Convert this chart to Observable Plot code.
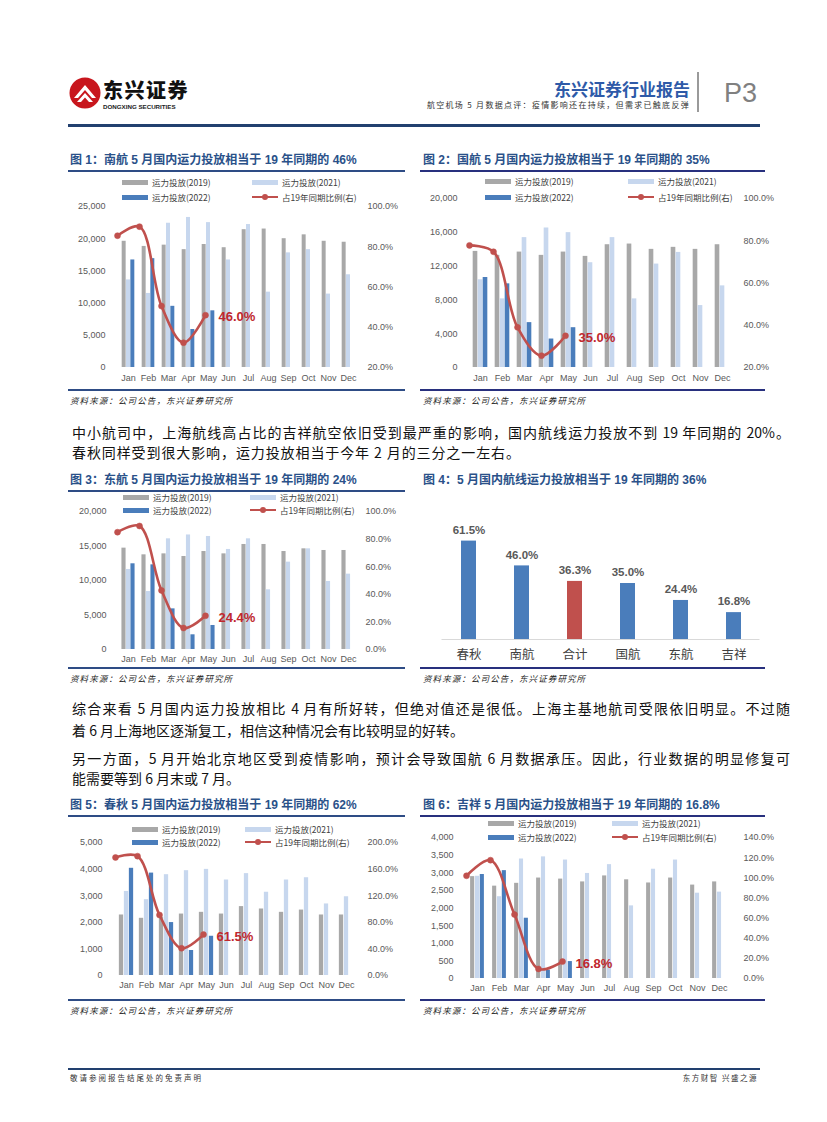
<!DOCTYPE html>
<html><head><meta charset="utf-8">
<script src="https://cdn.jsdelivr.net/npm/d3@7"></script>
<script src="https://cdn.jsdelivr.net/npm/@observablehq/plot@0.6"></script>
<style>
body{margin:0;background:#fff;}
#page{position:relative;width:827px;height:1122px;overflow:hidden;background:#fff;font-family:"Liberation Sans","Noto Sans CJK SC",sans-serif;}
.abs{position:absolute;white-space:nowrap;}
.title{position:absolute;white-space:nowrap;font-family:"Liberation Sans","Noto Sans CJK SC",sans-serif;font-weight:bold;font-size:12px;line-height:16px;color:#2a5189;}
.hr{position:absolute;height:1.5px;background:#2e4c85;}
.hr2{position:absolute;height:1.5px;background:#28307e;}
.src{position:absolute;white-space:nowrap;font-family:"Noto Sans CJK SC",sans-serif;font-size:8.5px;line-height:12px;font-style:italic;letter-spacing:1.1px;color:#222;}
.lg{position:absolute;white-space:nowrap;font-family:"Noto Sans CJK SC","Liberation Sans",sans-serif;font-size:8.5px;line-height:12px;color:#404040;}
.sw{position:absolute;height:5px;width:26px;}
.para{position:absolute;left:72px;width:718px;font-family:"Noto Sans CJK SC",sans-serif;font-size:14px;line-height:20px;color:#111;white-space:nowrap;}
.just{text-align:justify;text-align-last:justify;white-space:normal;}
.chart{position:absolute;overflow:visible;}
.chart svg{position:absolute;left:0;top:0;overflow:visible;}
</style>
</head><body><div id="page"></div>
<script>
// ---------- data ----------
const months = ["Jan","Feb","Mar","Apr","May","Jun","Jul","Aug","Sep","Oct","Nov","Dec"];
const legendNames = ["运力投放(2019)","运力投放(2021)","运力投放(2022)","占19年同期比例(右)"];

// 南航 (China Southern)
const nh2019 = [19600,18800,19000,18300,19100,18600,21400,21500,20000,20600,19600,19450];
const nh2021 = [13600,11500,22400,23300,22500,16700,22200,11700,17800,18300,11400,14400];
const nh2022 = [16700,16900,9500,5900,8800];
const nhRatio = [85.5,90.0,50.5,32.3,46.0];

// 国航 (Air China)
const gh2019 = [13740,13270,13660,13270,13660,13150,14530,14610,13980,14220,13980,14530];
const gh2021 = [10380,8120,15370,16510,15960,12400,15370,8120,12240,13620,7330,9660];
const gh2022 = [10650,9900,5310,3370,4710];
const ghRatio = [77.8,74.8,39.0,25.6,35.0];

// 东航 (China Eastern)
const dh2019 = [14690,13720,13860,13480,14200,13860,15220,15220,14200,14590,14350,14350];
const dh2021 = [11600,8400,16040,16600,16380,14500,16040,8650,12660,14590,9860,10920];
const dh2022 = [12420,12270,5890,2130,3480];
const dhRatio = [85.0,89.5,42.8,15.6,24.4];

// 春秋 (Spring)
const cq2019 = [2275,2150,2190,2310,2375,2310,2590,2500,2375,2460,2275,2275];
const cq2021 = [3160,2850,3790,3940,3990,3590,3830,3130,3590,3675,2690,2960];
const cq2022 = [4030,3850,1990,940,1475];
const cqRatio = [177.5,179.5,91.0,41.0,61.5];

// 吉祥 (Juneyao)
const jx2019 = [2890,2620,2700,2850,2820,2740,2910,2800,2710,2850,2650,2740];
const jx2021 = [2900,2320,3390,3450,3360,2980,3230,2060,3100,3360,2420,2450];
const jx2022 = [2950,3060,1710,235,480];
const jxRatio = [102.0,117.5,63.5,9.5,16.8];

// 图4
const airlines = ["春秋","南航","合计","国航","东航","吉祥"];
const mayShare = [61.5,46.0,36.3,35.0,24.4,16.8];

// tick values
const ticks25k = [0,5000,10000,15000,20000,25000];
const ticks20k4 = [0,4000,8000,12000,16000,20000];
const ticks20k5 = [0,5000,10000,15000,20000];
const ticks5k = [0,1000,2000,3000,4000,5000];
const ticks4k = [0,500,1000,1500,2000,2500,3000,3500,4000];
const rTicks20_100 = [20,40,60,80,100];
const rTicks0_100 = [0,20,40,60,80,100];
const rTicks0_200 = [0,40,80,120,160,200];
const rTicks0_140 = [0,20,40,60,80,100,120,140];

// ---------- style constants ----------
const C19 = "#a8a8a8", C21 = "#c7d7ee", C22 = "#4a7dbb", CRED = "#c0504d", CLAB = "#c0272d";

const page = document.getElementById("page");
function el(tag, cls, css, html) {
  const e = document.createElement(tag);
  if (cls) e.className = cls;
  if (css) e.style.cssText = css;
  if (html != null) e.innerHTML = html;
  page.appendChild(e);
  return e;
}

// ---------- header ----------
el("div","abs","left:68px;top:76px;width:34px;height:34px;",
 `<svg width="34" height="34" viewBox="0 0 34 34"><circle cx="17" cy="17" r="15.5" fill="#c8161d"/>
  <path d="M6 22 L17 9 L28 22 L24 22 L17 14 L10 22 Z" fill="#fff"/>
  <path d="M9 26 L17 17 L25 26 L21 26 L17 21.5 L13 26 Z" fill="#fff"/></svg>`);
el("div","abs","left:103px;top:79px;font-family:'Noto Sans CJK SC';font-weight:900;font-size:20px;line-height:22px;color:#111;letter-spacing:1.5px;","东兴证券");
el("div","abs","left:103px;top:103.5px;font-family:'Liberation Sans';font-weight:bold;font-size:6.2px;line-height:6.5px;color:#222;","DONGXING SECURITIES");
el("div","abs","left:540px;width:150px;top:79px;text-align:right;font-family:'Noto Sans CJK SC';font-weight:bold;font-size:17px;line-height:20px;color:#2e5aa8;","东兴证券行业报告");
el("div","abs","left:380px;width:310px;top:99px;text-align:right;font-family:'Noto Sans CJK SC';font-size:8px;line-height:11px;color:#333;letter-spacing:1.3px;","航空机场 5 月数据点评：疫情影响还在持续，但需求已触底反弹");
el("div","abs","left:697px;top:72px;width:1.5px;height:40px;background:#9a9a9a;");
el("div","abs","left:724px;top:77px;font-family:'Liberation Sans';font-size:27px;line-height:32px;color:#808080;","P3");
el("div","abs","left:68px;top:124px;width:692px;height:3px;background:#22406f;");

// ---------- footer ----------
el("div","abs","left:68px;top:1068px;width:692px;height:2px;background:#22406f;");
el("div","abs","left:70px;top:1072px;font-family:'Noto Sans CJK SC';font-size:7.5px;line-height:11px;letter-spacing:2px;color:#333;","敬请参阅报告结尾处的免责声明");
el("div","abs","left:600px;width:158px;top:1072px;text-align:right;font-family:'Noto Sans CJK SC';font-size:7.5px;line-height:11px;letter-spacing:1.5px;color:#333;","东方财智 兴盛之源");

// ---------- paragraphs ----------
el("div","para just","top:422px;","中小航司中，上海航线高占比的吉祥航空依旧受到最严重的影响，国内航线运力投放不到 19 年同期的 20%。");
el("div","para","top:442px;letter-spacing:0.9px;","春秋同样受到很大影响，运力投放相当于今年 2 月的三分之一左右。");
el("div","para just","top:698px;","综合来看 5 月国内运力投放相比 4 月有所好转，但绝对值还是很低。上海主基地航司受限依旧明显。不过随");
el("div","para","top:720px;","着 6 月上海地区逐渐复工，相信这种情况会有比较明显的好转。");
el("div","para just","top:748px;","另一方面，5 月开始北京地区受到疫情影响，预计会导致国航 6 月数据承压。因此，行业数据的明显修复可");
el("div","para","top:768px;","能需要等到 6 月末或 7 月。");

// ---------- chart frames ----------
function frame(f) {
  el("div","title",`left:${f.tx}px;top:${f.ty - 8}px;`, f.title);
  if (f.topLine != null) el("div", f.right ? "hr2" : "hr", `left:${f.x1}px;width:${f.x2 - f.x1}px;top:${f.topLine}px;`);
  el("div", f.right ? "hr2" : "hr", `left:${f.x1}px;width:${f.x2 - f.x1}px;top:${f.botLine}px;`);
  el("div","src",`left:${f.tx}px;top:${f.botLine + 5}px;`,"资料来源：公司公告，东兴证券研究所");
}
function legend(x1, x2, y1, y2) {
  el("div","sw",`left:${x1}px;top:${y1 - 2.5}px;background:${C19};`);
  el("div","lg",`left:${x1 + 30}px;top:${y1 - 6}px;`, legendNames[0]);
  el("div","sw",`left:${x2}px;top:${y1 - 2.5}px;background:${C21};`);
  el("div","lg",`left:${x2 + 30}px;top:${y1 - 6}px;`, legendNames[1]);
  el("div","sw",`left:${x1}px;top:${y2 - 2.5}px;background:${C22};`);
  el("div","lg",`left:${x1 + 30}px;top:${y2 - 6}px;`, legendNames[2]);
  el("div","abs",`left:${x2}px;top:${y2 - 1.25}px;width:26px;height:2.5px;background:${CRED};`);
  el("div","abs",`left:${x2 + 10}px;top:${y2 - 3}px;width:6px;height:6px;border-radius:3px;background:${CRED};`);
  el("div","lg",`left:${x2 + 30}px;top:${y2 - 6}px;`, legendNames[3]);
}

function combo(c) {
  const s = (c.dec - c.jan) / 11;
  const x0 = c.jan - s / 2, x1 = c.dec + s / 2;
  const W = c.width, H = c.height;
  const mL = x0 - c.left, mR = c.left + W - x1, mT = c.yTop - c.top, mB = c.top + H - c.y0;
  const g = c.group, w = g / 3, e = (s - g) / 2;
  const box = el("div","chart",`left:${c.left}px;top:${c.top}px;width:${W}px;height:${H}px;`);
  const style = {fontFamily: "Liberation Sans, Arial, sans-serif", fontSize: "9px", color: "#595959", background: "transparent", overflow: "visible"};
  const mx = (d, i) => months[i];
  const A = Plot.plot({
    width: W, height: H, marginLeft: mL, marginRight: mR, marginTop: mT, marginBottom: mB,
    style,
    x: {domain: months, padding: 0},
    y: {domain: [0, c.yMax]},
    marks: [
      Plot.barY(c.v19, {x: mx, y: d => d, fill: C19, insetLeft: e, insetRight: s - e - w}),
      Plot.barY(c.v21, {x: mx, y: d => d, fill: C21, insetLeft: e + w, insetRight: e + w}),
      Plot.barY(c.v22, {x: mx, y: d => d, fill: C22, insetLeft: e + 2 * w, insetRight: e}),
      Plot.axisX({tickSize: 0, tickPadding: c.xPad, label: null}),
      Plot.axisY({ticks: c.yTicks, tickSize: 0, tickPadding: x0 - c.leftLabelRight, tickFormat: d3.format(","), label: null})
    ]
  });
  const last = c.ratio.length - 1;
  const B = Plot.plot({
    width: W, height: H, marginLeft: mL, marginRight: mR, marginTop: mT, marginBottom: mB,
    style,
    x: {domain: months, padding: 0, axis: null},
    y: {domain: [c.rMin, c.rMax]},
    marks: [
      Plot.line(c.ratio, {x: mx, y: d => d, stroke: CRED, strokeWidth: 2.6, curve: "catmull-rom"}),
      Plot.dot(c.ratio, {x: mx, y: d => d, r: 3, fill: CRED, stroke: CRED, strokeWidth: 0.5}),
      Plot.text([c.ratio[last]], {x: () => months[last], y: d => d, text: d => d.toFixed(1) + "%", dx: 13, dy: 2,
        textAnchor: "start", fill: CLAB, fontWeight: "bold", fontSize: 13, fontFamily: "Liberation Sans, Arial, sans-serif"}),
      Plot.axisY({anchor: "right", ticks: c.rTicks, tickSize: 0, tickPadding: c.rightLabelLeft - x1,
        tickFormat: d => d.toFixed(1) + "%", label: null})
    ]
  });
  box.appendChild(A);
  box.appendChild(B);
}

// 图1
frame({title: "图 1：南航 5 月国内运力投放相当于 19 年同期的 46%", tx: 70, ty: 160, x1: 68, x2: 405, topLine: 170, botLine: 389});
legend(122, 252, 182, 197);
combo({left: 64, top: 194, width: 341, height: 194, jan: 126, dec: 350, y0: 367, yTop: 206,
  yMax: 25000, yTicks: ticks25k, rMin: 20, rMax: 100, rTicks: rTicks20_100,
  leftLabelRight: 105, rightLabelLeft: 367, xPad: 7.5, group: 13,
  v19: nh2019, v21: nh2021, v22: nh2022, ratio: nhRatio});

// 图2
frame({title: "图 2：国航 5 月国内运力投放相当于 19 年同期的 35%", tx: 423, ty: 160, x1: 420, x2: 765, topLine: 170, botLine: 389, right: true});
legend(485, 628, 181, 197);
combo({left: 420, top: 188, width: 345, height: 200, jan: 478, dec: 724, y0: 367, yTop: 198,
  yMax: 20000, yTicks: ticks20k4, rMin: 20, rMax: 100, rTicks: rTicks20_100,
  leftLabelRight: 457, rightLabelLeft: 743, xPad: 7.5, group: 15,
  v19: gh2019, v21: gh2021, v22: gh2022, ratio: ghRatio});

// 图3
frame({title: "图 3：东航 5 月国内运力投放相当于 19 年同期的 24%", tx: 70, ty: 480, x1: 68, x2: 405, topLine: 490, botLine: 667});
legend(123, 250, 497, 510);
combo({left: 64, top: 502, width: 341, height: 164, jan: 126, dec: 350, y0: 649, yTop: 511,
  yMax: 20000, yTicks: ticks20k5, rMin: 0, rMax: 100, rTicks: rTicks0_100,
  leftLabelRight: 106, rightLabelLeft: 365, xPad: 6.5, group: 13.5,
  v19: dh2019, v21: dh2021, v22: dh2022, ratio: dhRatio});

// 图4
frame({title: "图 4：5 月国内航线运力投放相当于 19 年同期的 36%", tx: 423, ty: 480, x1: 420, x2: 765, topLine: null, botLine: 667, right: true});
(function () {
  const left = 420, top = 500, W = 345, H = 165;
  const step = 53, x0 = 468 - step / 2, x1 = 733 + step / 2, y0 = 639, yTop = 511;
  const box = el("div","chart",`left:${left}px;top:${top}px;width:${W}px;height:${H}px;`);
  const bw = 15, ins = (step - bw) / 2;
  const p = Plot.plot({
    width: W, height: H, marginLeft: x0 - left, marginRight: left + W - x1, marginTop: yTop - top, marginBottom: top + H - y0,
    style: {fontFamily: "Noto Sans CJK SC, sans-serif", fontSize: "12.5px", color: "#404040", background: "transparent", overflow: "visible"},
    x: {domain: airlines, padding: 0},
    y: {domain: [0, 80], axis: null},
    marks: [
      Plot.barY(mayShare, {x: (d, i) => airlines[i], y: d => d, fill: (d, i) => airlines[i] === "合计" ? CRED : C22, insetLeft: ins, insetRight: ins}),
      Plot.ruleY([0], {stroke: "#d9d9d9", strokeWidth: 1}),
      Plot.text(mayShare, {x: (d, i) => airlines[i], y: d => d, text: d => d.toFixed(1) + "%", dy: -11,
        fill: "#595959", fontWeight: "bold", fontSize: 11.5, fontFamily: "Liberation Sans, Arial, sans-serif"}),
      Plot.axisX({tickSize: 0, tickPadding: 11, label: null})
    ]
  });
  box.appendChild(p);
})();

// 图5
frame({title: "图 5：春秋 5 月国内运力投放相当于 19 年同期的 62%", tx: 70, ty: 805, x1: 68, x2: 405, topLine: 815, botLine: 999});
legend(132, 245, 829, 842);
combo({left: 64, top: 832, width: 341, height: 164, jan: 122, dec: 350, y0: 975, yTop: 842,
  yMax: 5000, yTicks: ticks5k, rMin: 0, rMax: 200, rTicks: rTicks0_200,
  leftLabelRight: 102, rightLabelLeft: 367, xPad: 6.5, group: 15,
  v19: cq2019, v21: cq2021, v22: cq2022, ratio: cqRatio});

// 图6
frame({title: "图 6：吉祥 5 月国内运力投放相当于 19 年同期的 16.8%", tx: 423, ty: 805, x1: 420, x2: 765, topLine: 815, botLine: 999, right: true});
legend(488, 612, 823, 837);
combo({left: 420, top: 828, width: 345, height: 168, jan: 473, dec: 723, y0: 978, yTop: 837,
  yMax: 4000, yTicks: ticks4k, rMin: 0, rMax: 140, rTicks: rTicks0_140,
  leftLabelRight: 453, rightLabelLeft: 743, xPad: 6.5, group: 14.5,
  v19: jx2019, v21: jx2021, v22: jx2022, ratio: jxRatio});
</script>
</body></html>
